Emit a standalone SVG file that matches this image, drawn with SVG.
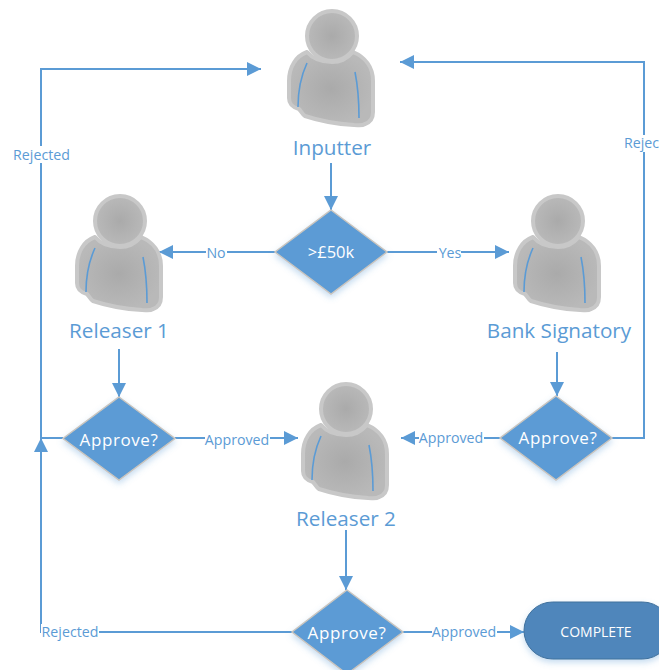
<svg xmlns="http://www.w3.org/2000/svg" width="659" height="670" viewBox="0 0 659 670">
<style>
text{font-family:"Open Sans","Noto Sans","Liberation Sans",sans-serif}
.c{fill:none;stroke:#5b9bd5;stroke-width:2}
.lb{font-size:14.2px;fill:#5b9bd5;text-anchor:middle}
.bg{fill:#fff}
.name{font-size:20.7px;fill:#5b9bd5;text-anchor:middle}
.d{fill:#5b9bd5;stroke:#c9c5bf;stroke-width:1.5;filter:url(#sh)}
.dt{font-size:16.5px;fill:#fff;text-anchor:middle}
.ap{font-size:17px;letter-spacing:.6px}
.blue{fill:none;stroke:#5b9bd5;stroke-width:1.6}
</style>
<defs>
<marker id="a" markerUnits="userSpaceOnUse" markerWidth="14" markerHeight="14" refX="14" refY="7" orient="auto"><path d="M0 0L14 7L0 14Z" fill="#5b9bd5"/></marker>
<filter id="sh" x="-20%" y="-20%" width="140%" height="150%"><feDropShadow dx="0" dy="3" stdDeviation="3" flood-color="#5b9bd5" flood-opacity=".35"/></filter>
<radialGradient id="g"><stop offset="0" stop-color="#aaaaaa"/><stop offset="1" stop-color="#b9b9b9"/></radialGradient>
<symbol id="person" overflow="visible">
<path d="M-25 16C-36 20-43 31-43 45L-43 62C-43 68-40 71-33 73C-31 75-30 78-27 80C-12 85 5 88 22 89C27 89 30 90 33 88C39 86 41 82 41 76L41 45C41 31 33 21 21 16C14 24 8 26 0 26C-10 26-19 23-25 16Z" fill="url(#g)" stroke="#c8c8c8" stroke-width="4" stroke-linejoin="round"/>
<circle cx="0" cy="0" r="25" fill="url(#g)" stroke="#c8c8c8" stroke-width="4"/>
<path class="blue" d="M-25 27C-31 40-34 54-34 71"/>
<path class="blue" d="M23 36C26 51 27 66 27 82"/>
</symbol>
</defs>
<rect width="659" height="670" fill="#fff"/>
<g id="connectors">
<path class="c" d="M41 438V69H261" marker-end="url(#a)"/>
<path class="c" d="M612 438H644V62H400" marker-end="url(#a)"/>
<path class="c" d="M331 163V210" marker-end="url(#a)"/>
<path class="c" d="M275 252H159" marker-end="url(#a)"/>
<path class="c" d="M387 252H509" marker-end="url(#a)"/>
<path class="c" d="M119 349V397" marker-end="url(#a)"/>
<path class="c" d="M557 352V396" marker-end="url(#a)"/>
<path class="c" d="M63 438H41"/>
<path class="c" d="M175 438H298" marker-end="url(#a)"/>
<path class="c" d="M500 438H401" marker-end="url(#a)"/>
<path class="c" d="M346 530V590" marker-end="url(#a)"/>
<path class="c" d="M292 632H41V438" marker-end="url(#a)"/>
<path class="c" d="M403 632H524" marker-end="url(#a)"/>
<g id="connector-labels">
<rect class="bg" x="12" y="146" width="58" height="17"/><text class="lb" x="41.500" y="160">Rejected</text>
<rect class="bg" x="622" y="135" width="37" height="17"/><text class="lb" x="659" y="148" style="text-anchor:end">Rejec</text>
<rect class="bg" x="206" y="245" width="21" height="15"/><text class="lb" x="216" y="258">No</text>
<rect class="bg" x="437" y="245" width="24" height="15"/><text class="lb" x="450" y="258">Yes</text>
<rect class="bg" x="205" y="431" width="65" height="16"/><text class="lb" x="237" y="445">Approved</text>
<rect class="bg" x="419" y="431" width="65" height="16"/><text class="lb" x="451" y="443">Approved</text>
<rect class="bg" x="41" y="624" width="58" height="16"/><text class="lb" x="70" y="637">Rejected</text>
<rect class="bg" x="432" y="624" width="65" height="16"/><text class="lb" x="464" y="637">Approved</text>
</g>
</g>
<g id="inputter"><use href="#person" x="332" y="36"/><text class="name" x="332" y="155">Inputter</text></g>
<g id="releaser-1"><use href="#person" x="120" y="221"/><text class="name" x="119" y="338">Releaser 1</text></g>
<g id="bank-signatory"><use href="#person" x="558" y="221"/><text class="name" x="559" y="338">Bank Signatory</text></g>
<g id="releaser-2"><use href="#person" x="346" y="409"/><text class="name" x="346" y="526">Releaser 2</text></g>
<g id="decision-50k"><path class="d" d="M331 210L387 252L331 294L275 252Z"/><text class="dt" x="331" y="258">&gt;£50k</text></g>
<g id="approve-1"><path class="d" d="M119 397L175 438.500L119 480L63 438.500Z"/><text class="dt ap" x="119" y="446">Approve?</text></g>
<g id="approve-2"><path class="d" d="M556 396L612 438L556 480L500 438Z"/><text class="dt ap" x="558" y="444">Approve?</text></g>
<g id="approve-3"><path class="d" d="M347 590L403 632L347 674L292 632Z"/><text class="dt ap" x="347" y="639">Approve?</text></g>
<g id="complete"><rect x="524" y="602" width="147" height="57" rx="28.500" fill="#4f86bb" stroke="#41719c" stroke-width="1" filter="url(#sh)"/><text x="596" y="637" font-size="14" fill="#fff" text-anchor="middle">COMPLETE</text></g>
</svg>
